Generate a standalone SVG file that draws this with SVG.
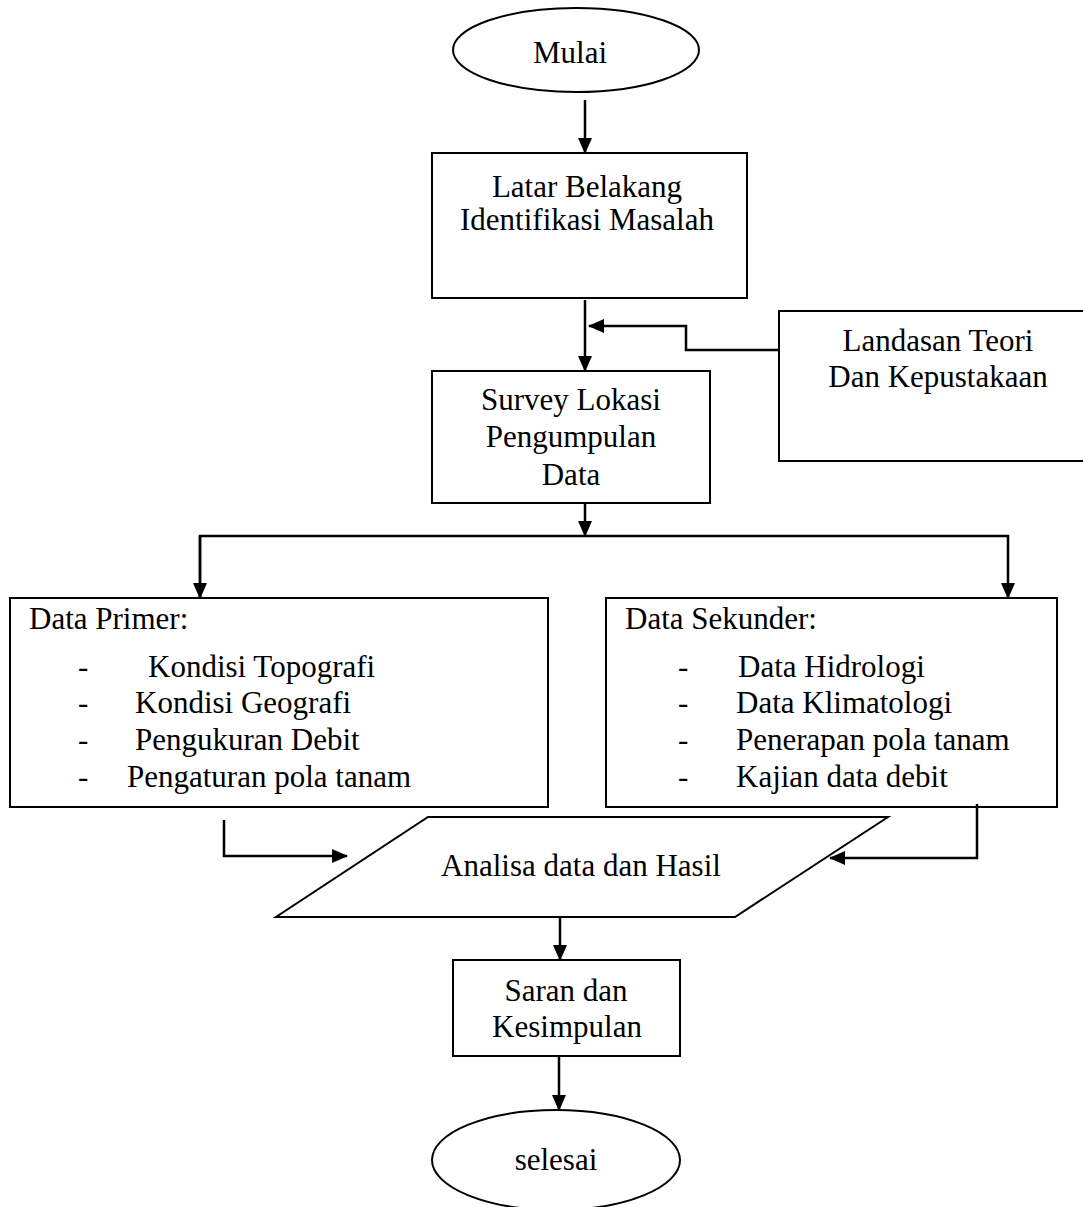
<svg xmlns="http://www.w3.org/2000/svg" width="1083" height="1207" viewBox="0 0 1083 1207">
<defs>
<marker id="ah" markerWidth="16" markerHeight="14" refX="15" refY="7" orient="auto" markerUnits="userSpaceOnUse" viewBox="0 0 16 14">
<path d="M0,0 L16,7 L0,14 z" fill="#000"/>
</marker>
<style>
.s{fill:#fff;stroke:#000;stroke-width:2}
.c{fill:none;stroke:#000;stroke-width:2.5}
.t{font-family:"Liberation Serif","Times New Roman",serif;font-size:31px;fill:#000}
.m{text-anchor:middle}
</style>
</defs>
<rect width="1083" height="1207" fill="#fff"/>
<g id="mulai">
<ellipse class="s" cx="576" cy="50" rx="123" ry="42"/>
<text class="t m" x="570" y="63">Mulai</text>
</g>
<g id="latar">
<rect class="s" x="432" y="153" width="315" height="145"/>
<text class="t m" x="587" y="197">Latar Belakang</text>
<text class="t m" x="587" y="230">Identifikasi Masalah</text>
</g>
<g id="landasan">
<rect class="s" x="779" y="311" width="320" height="150"/>
<text class="t m" x="938" y="351">Landasan Teori</text>
<text class="t m" x="938" y="387">Dan Kepustakaan</text>
</g>
<g id="survey">
<rect class="s" x="432" y="371" width="278" height="132"/>
<text class="t m" x="571" y="410">Survey Lokasi</text>
<text class="t m" x="571" y="447">Pengumpulan</text>
<text class="t m" x="571" y="485">Data</text>
</g>
<g id="primer">
<rect class="s" x="10" y="598" width="538" height="209"/>
<text class="t" x="29" y="629">Data Primer:</text>
<text class="t" x="78" y="677">-</text><text class="t" x="148" y="677">Kondisi Topografi</text>
<text class="t" x="78" y="713">-</text><text class="t" x="135" y="713">Kondisi Geografi</text>
<text class="t" x="78" y="750">-</text><text class="t" x="135" y="750">Pengukuran Debit</text>
<text class="t" x="78" y="787">-</text><text class="t" x="127" y="787">Pengaturan pola tanam</text>
</g>
<g id="sekunder">
<rect class="s" x="606" y="598" width="451" height="209"/>
<text class="t" x="625" y="629">Data Sekunder:</text>
<text class="t" x="678" y="677">-</text><text class="t" x="738" y="677">Data Hidrologi</text>
<text class="t" x="678" y="713">-</text><text class="t" x="736" y="713">Data Klimatologi</text>
<text class="t" x="678" y="750">-</text><text class="t" x="736" y="750">Penerapan pola tanam</text>
<text class="t" x="678" y="787">-</text><text class="t" x="736" y="787">Kajian data debit</text>
</g>
<g id="analisa">
<polygon class="s" points="428,817 888,817 735,917 276,917"/>
<text class="t m" x="581" y="876">Analisa data dan Hasil</text>
</g>
<g id="saran">
<rect class="s" x="453" y="960" width="227" height="96"/>
<text class="t m" x="566" y="1001">Saran dan</text>
<text class="t m" x="567" y="1037">Kesimpulan</text>
</g>
<g id="selesai">
<ellipse class="s" cx="556" cy="1160" rx="124" ry="50"/>
<text class="t m" x="556" y="1170">selesai</text>
</g>
<g id="connectors">
<line class="c" x1="585" y1="100" x2="585" y2="153" marker-end="url(#ah)"/>
<line class="c" x1="585" y1="300" x2="585" y2="371" marker-end="url(#ah)"/>
<polyline class="c" points="780,350 686,350 686,326 589,326" marker-end="url(#ah)"/>
<line class="c" x1="585" y1="503" x2="585" y2="536" marker-end="url(#ah)"/>
<polyline class="c" points="200,598 200,536 1008,536 1008,598" marker-end="url(#ah)"/>
<line class="c" x1="200" y1="536" x2="200" y2="598" marker-end="url(#ah)"/>
<polyline class="c" points="224,820 224,856 347,856" marker-end="url(#ah)"/>
<polyline class="c" points="977,804 977,858 830,858" marker-end="url(#ah)"/>
<line class="c" x1="560" y1="917" x2="560" y2="960" marker-end="url(#ah)"/>
<line class="c" x1="559" y1="1056" x2="559" y2="1110" marker-end="url(#ah)"/>
</g>
</svg>
